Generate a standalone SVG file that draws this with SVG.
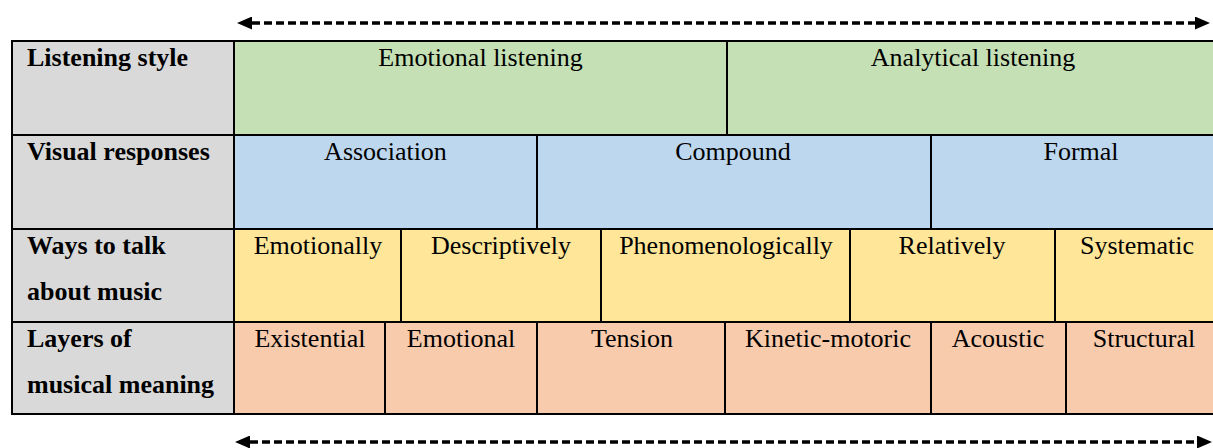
<svg xmlns="http://www.w3.org/2000/svg" width="1213" height="448" viewBox="0 0 1213 448">
  <style>
    .cell { stroke: #000; stroke-width: 2; }
    .hdr { fill: #d9d9d9; }
    .green { fill: #c5e0b4; }
    .blue { fill: #bdd7ee; }
    .yellow { fill: #ffe699; }
    .orange { fill: #f8cbad; }
    text { font-family: "Liberation Serif", "Times New Roman", serif; font-size: 26px; fill: #000; }
    .lbl { font-weight: bold; }
    .c { text-anchor: middle; }
    .arrow { stroke: #000; stroke-width: 3.5; stroke-dasharray: 8 4; fill: none; }
  </style>
  <defs>
    <marker id="head" viewBox="0 0 15 13" refX="0" refY="6.5" markerWidth="15" markerHeight="13" orient="auto-start-reverse" markerUnits="userSpaceOnUse">
      <path d="M0,0 L15,6.5 L0,13 Z" fill="#000"/>
    </marker>
  </defs>

  <rect width="1213" height="448" fill="#fff"/>

  <!-- Row 1: listening style -->
  <g id="row-listening-style">
    <rect class="cell hdr" x="12" y="41" width="222" height="94"/>
    <text class="lbl" x="27" y="66">Listening style</text>
  </g>
  <g id="emotional-listening">
    <rect class="cell green" x="234" y="41" width="493" height="94"/>
    <text class="c" x="480.5" y="66">Emotional listening</text>
  </g>
  <g id="analytical-listening">
    <rect class="cell green" x="727" y="41" width="493" height="94"/>
    <text class="c" x="973" y="66">Analytical listening</text>
  </g>

  <!-- Row 2: visual responses -->
  <g id="row-visual-responses">
    <rect class="cell hdr" x="12" y="135" width="222" height="94"/>
    <text class="lbl" x="27" y="160">Visual responses</text>
  </g>
  <g id="association">
    <rect class="cell blue" x="234" y="135" width="303" height="94"/>
    <text class="c" x="385.5" y="160">Association</text>
  </g>
  <g id="compound">
    <rect class="cell blue" x="537" y="135" width="394" height="94"/>
    <text class="c" x="733" y="160">Compound</text>
  </g>
  <g id="formal">
    <rect class="cell blue" x="931" y="135" width="289" height="94"/>
    <text class="c" x="1081" y="160">Formal</text>
  </g>

  <!-- Row 3: ways to talk about music -->
  <g id="row-ways-to-talk">
    <rect class="cell hdr" x="12" y="229" width="222" height="93"/>
    <text class="lbl" x="27" y="254">Ways to talk</text>
    <text class="lbl" x="27" y="300">about music</text>
  </g>
  <g id="emotionally">
    <rect class="cell yellow" x="234" y="229" width="167" height="93"/>
    <text class="c" x="318" y="254">Emotionally</text>
  </g>
  <g id="descriptively">
    <rect class="cell yellow" x="401" y="229" width="200" height="93"/>
    <text class="c" x="501" y="254">Descriptively</text>
  </g>
  <g id="phenomenologically">
    <rect class="cell yellow" x="601" y="229" width="249" height="93"/>
    <text class="c" x="726" y="254">Phenomenologically</text>
  </g>
  <g id="relatively">
    <rect class="cell yellow" x="850" y="229" width="205" height="93"/>
    <text class="c" x="952" y="254">Relatively</text>
  </g>
  <g id="systematic">
    <rect class="cell yellow" x="1055" y="229" width="165" height="93"/>
    <text class="c" x="1137" y="254">Systematic</text>
  </g>

  <!-- Row 4: layers of musical meaning -->
  <g id="row-layers">
    <rect class="cell hdr" x="12" y="322" width="222" height="92"/>
    <text class="lbl" x="27" y="347">Layers of</text>
    <text class="lbl" x="27" y="393">musical meaning</text>
  </g>
  <g id="existential">
    <rect class="cell orange" x="234" y="322" width="151" height="92"/>
    <text class="c" x="310" y="347">Existential</text>
  </g>
  <g id="emotional">
    <rect class="cell orange" x="385" y="322" width="152" height="92"/>
    <text class="c" x="461" y="347">Emotional</text>
  </g>
  <g id="tension">
    <rect class="cell orange" x="537" y="322" width="188" height="92"/>
    <text class="c" x="632" y="347">Tension</text>
  </g>
  <g id="kinetic-motoric">
    <rect class="cell orange" x="725" y="322" width="206" height="92"/>
    <text class="c" x="828" y="347">Kinetic-motoric</text>
  </g>
  <g id="acoustic">
    <rect class="cell orange" x="931" y="322" width="135" height="92"/>
    <text class="c" x="998" y="347">Acoustic</text>
  </g>
  <g id="structural">
    <rect class="cell orange" x="1066" y="322" width="154" height="92"/>
    <text class="c" x="1144" y="347">Structural</text>
  </g>

  <!-- Double-headed dashed arrows spanning the scale -->
  <g id="connectors">
    <line class="arrow" x1="252" y1="23" x2="1195" y2="23" marker-start="url(#head)" marker-end="url(#head)"/>
    <line class="arrow" x1="250" y1="442" x2="1197" y2="442" marker-start="url(#head)" marker-end="url(#head)"/>
  </g>
</svg>
